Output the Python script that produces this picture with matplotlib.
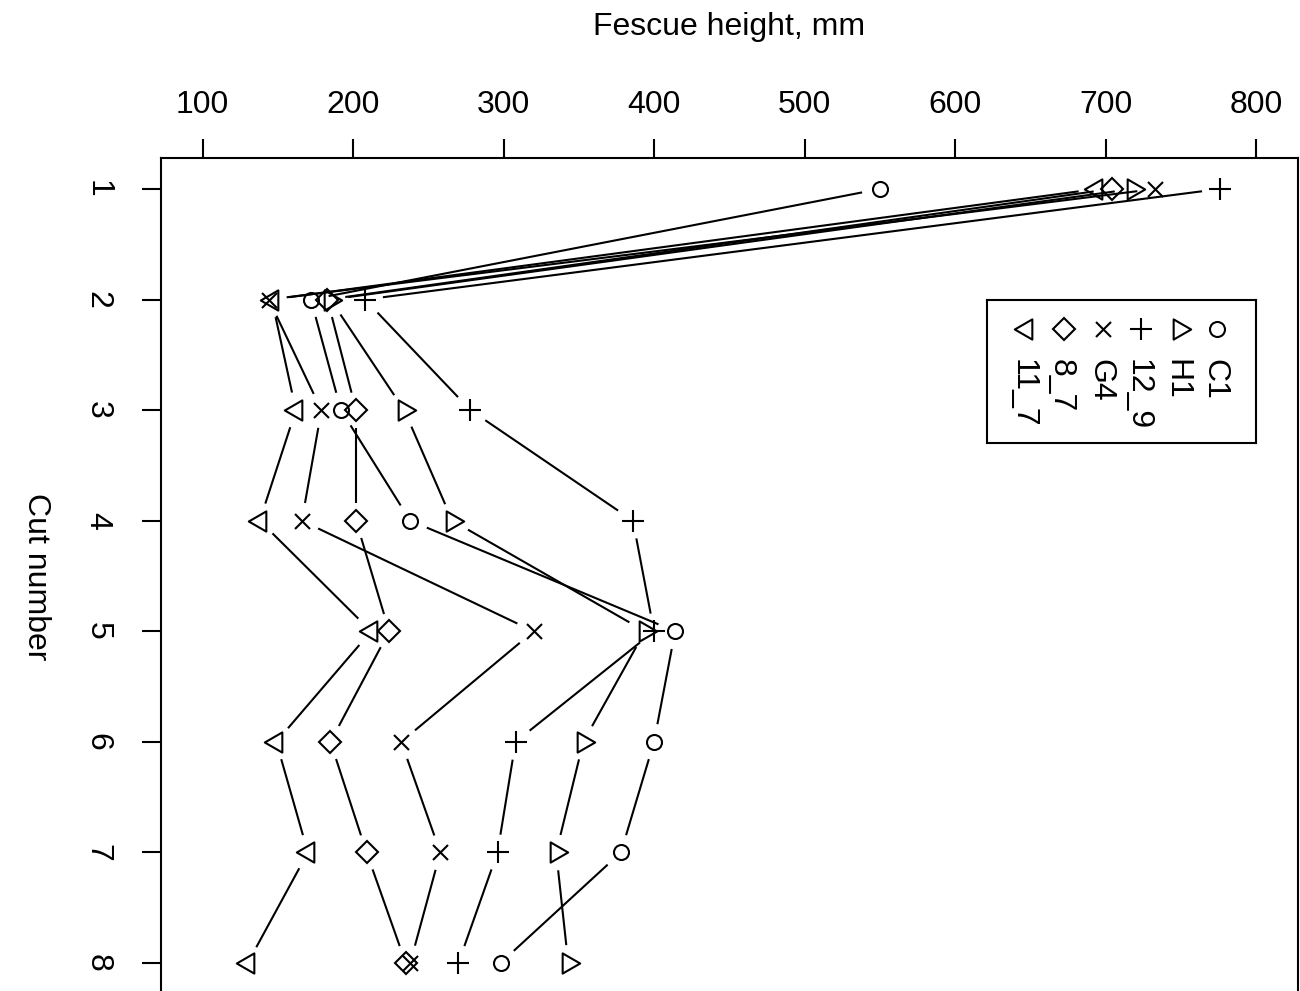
import numpy as np
import matplotlib.pyplot as plt
from matplotlib.path import Path

plt.rcParams['font.family'] = ['Liberation Sans', 'DejaVu Sans']

cuts = [1, 2, 3, 4, 5, 6, 7, 8]
names = ["C1", "H1", "12_9", "G4", "8_7", "11_7"]
c1 = [550, 172, 192, 238, 414, 400, 378, 298]
h1 = [718, 185, 234, 266, 394, 353, 335, 343]
s12_9 = [776, 208, 278, 386, 400, 308, 296, 270]
g4 = [733, 144, 179, 166, 320, 232, 258, 238]
s8_7 = [704, 183, 202, 202, 224, 185, 209, 235]
s11_7 = [694, 146, 162, 138, 212, 149, 170, 130]
heights = [c1, h1, s12_9, g4, s8_7, s11_7]
x_ticks = [100, 200, 300, 400, 500, 600, 700, 800]

# R style triangles, turned on their side
tri_r = Path([(-0.778, -1.347), (1.555, 0), (-0.778, 1.347), (-0.778, -1.347)], closed=True)
tri_l = Path([(0.778, -1.347), (-1.555, 0), (0.778, 1.347), (0.778, -1.347)], closed=True)
markers = ['o', tri_r, '+', 'x', 'D', tri_l]
msizes = [10.8, 16.8, 15.3, 10.8, 10.8, 16.8]
LW = 1.5

fig = plt.figure(figsize=(13, 9.91), dpi=100)
ax = fig.add_axes([160.7 / 1300, 1 - 994 / 991, (1298 - 160.7) / 1300, (994 - 158) / 991])
ax.set_xlim(72.2, 827.9)
ax.set_ylim(8.28, 0.72)


def gapped(xs, ys, gap=18):
    # lines with gaps round the points, like R type="b"
    pts = ax.transData.transform(np.column_stack([xs, ys]))
    inv = ax.transData.inverted()
    for p, q in zip(pts[:-1], pts[1:]):
        d = q - p
        L = np.hypot(d[0], d[1])
        if L <= 2 * gap:
            continue
        u = d / L
        a, b = inv.transform([p + u * gap, q - u * gap])
        ax.plot([a[0], b[0]], [a[1], b[1]], color='black', lw=LW, solid_capstyle='butt')


for vals, m, ms in zip(heights, markers, msizes):
    gapped(vals, cuts)
    ax.plot(vals, cuts, linestyle='none', marker=m, markersize=ms,
            markerfacecolor='none', markeredgecolor='black', markeredgewidth=LW)

ax.xaxis.tick_top()
ax.xaxis.set_label_position('top')
ax.set_xticks(x_ticks)
ax.set_yticks(cuts)
ax.set_yticklabels([str(c) for c in cuts], rotation=-90, va='center')
ax.tick_params(axis='both', direction='out', length=13.7, width=LW, labelsize=23)
ax.tick_params(axis='x', pad=14)
ax.tick_params(axis='y', pad=21)
for s in ax.spines.values():
    s.set_linewidth(LW)
ax.set_xlabel("Fescue height, mm", fontsize=23, labelpad=39)
fig.text(36 / 1300, 1 - 577 / 991, "Cut number", rotation=-90, fontsize=23,
         ha='center', va='center')

# legend, drawn sideways as in the reference
lax = fig.add_axes([987 / 1300, 1 - 443 / 991, 269 / 1300, 143 / 991])
lax.set_xlim(0, 269)
lax.set_ylim(143, 0)
lax.set_xticks([])
lax.set_yticks([])
for s in lax.spines.values():
    s.set_linewidth(LW)
leg_x = [230, 192, 154, 116, 77, 39]
for x, name, m, ms in zip(leg_x, names, markers, msizes):
    lax.plot([x], [29], linestyle='none', marker=m, markersize=ms,
             markerfacecolor='none', markeredgecolor='black', markeredgewidth=LW)
    lax.text(x - 3, 59, name, rotation=-90, fontsize=23, ha='center', va='top')

fig.savefig("out.png", dpi=100)
